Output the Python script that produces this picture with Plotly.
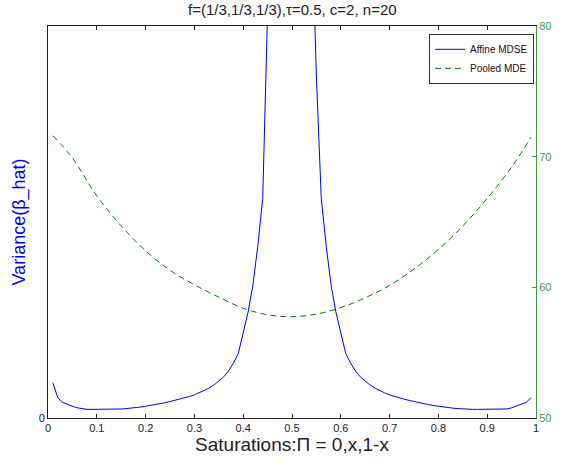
import numpy as np
import plotly.graph_objects as go

# Saturation grid (x) and series values
x_sat = np.round(np.arange(1, 100) * 0.01, 2).tolist()

affine_mdse = [
    0.090, 0.052, 0.040, 0.034, 0.030, 0.026, 0.023, 0.022, 0.022, 0.022,
    0.022, 0.022, 0.022, 0.022, 0.023, 0.024, 0.025, 0.027, 0.028, 0.030,
    0.032, 0.034, 0.036, 0.039, 0.042, 0.045, 0.048, 0.051, 0.055, 0.059,
    0.064, 0.069, 0.076, 0.084, 0.094, 0.105, 0.120, 0.140, 0.165, 0.215,
    0.270, 0.340, 0.440, 0.560, 0.870, 1.30, 2.0, 3.5, 7.0, 12.0,
    7.0, 3.5, 2.0, 1.30, 0.870, 0.560, 0.440, 0.340, 0.270, 0.215,
    0.165, 0.140, 0.120, 0.105, 0.094, 0.084, 0.076, 0.069, 0.064, 0.059,
    0.055, 0.051, 0.048, 0.045, 0.042, 0.039, 0.036, 0.034, 0.032, 0.030,
    0.028, 0.027, 0.025, 0.024, 0.023, 0.022, 0.022, 0.022, 0.022, 0.022,
    0.022, 0.022, 0.022, 0.023, 0.026, 0.030, 0.034, 0.040, 0.052, 0.090,
]
affine_mdse = affine_mdse[:99]

x_pooled = [0.01, 0.05, 0.10, 0.15, 0.20, 0.25, 0.30, 0.35, 0.40, 0.45, 0.50,
            0.55, 0.60, 0.65, 0.70, 0.75, 0.80, 0.85, 0.90, 0.95, 0.99]
pooled_mde = [71.6, 69.9, 67.0, 64.7, 62.8, 61.3, 60.2, 59.25, 58.4, 57.9, 57.75,
              57.95, 58.45, 59.2, 60.15, 61.4, 62.9, 64.7, 66.8, 69.2, 71.5]

x_ticks = [0, 0.1, 0.2, 0.3, 0.4, 0.5, 0.6, 0.7, 0.8, 0.9, 1]
x_ticktext = ["0", "0.1", "0.2", "0.3", "0.4", "0.5", "0.6", "0.7", "0.8", "0.9", "1"]
right_ticks = [50, 60, 70, 80]

BLUE = "#0000FF"
GREEN = "#008000"
AXGREEN = "#3c9c3c"
FONT = "Liberation Sans, Arial, sans-serif"

fig = go.Figure()
fig.add_trace(go.Scatter(
    x=x_sat, y=affine_mdse, mode="lines", name="Affine MDSE",
    line=dict(color=BLUE, width=1), yaxis="y",
))
fig.add_trace(go.Scatter(
    x=x_pooled, y=pooled_mde, mode="lines", name="Pooled MDE",
    line=dict(color=GREEN, width=1, dash="6px,4px", shape="spline"), yaxis="y2",
))

fig.update_layout(
    width=563, height=463,
    margin=dict(l=48, r=15, t=26, b=45),
    paper_bgcolor="white", plot_bgcolor="white",
    font=dict(family=FONT, size=11, color="#222222"),
    showlegend=True,
    legend=dict(
        x=0.996, y=0.98, xanchor="right", yanchor="top",
        bgcolor="white", bordercolor="#333333", borderwidth=1,
        font=dict(family=FONT, size=10, color="#111111"),
        itemwidth=30, tracegroupgap=0,
    ),
    xaxis=dict(
        range=[0, 1], tickvals=x_ticks, ticktext=x_ticktext,
        ticks="inside", ticklen=4, tickcolor="#222222",
        showline=True, linecolor="#222222", linewidth=1, mirror="ticks",
        showgrid=False, zeroline=False,
        tickfont=dict(size=11, color="#222222"),
        title=dict(text="Saturations:Π = 0,x,1-x",
                   font=dict(size=19, color="#222222"), standoff=3),
    ),
    yaxis=dict(
        range=[0, 1], tickvals=[0], ticktext=["0"],
        ticks="", showline=True, linecolor=BLUE, linewidth=1,
        showgrid=False, zeroline=False,
        tickfont=dict(size=11, color=BLUE),
        title=dict(text="Variance(β_hat)", font=dict(size=18, color=BLUE), standoff=8),
    ),
    yaxis2=dict(
        range=[50, 80], tickvals=right_ticks, overlaying="y", side="right",
        ticks="inside", ticklen=4, tickcolor=AXGREEN,
        showline=True, linecolor=AXGREEN, linewidth=1,
        showgrid=False, zeroline=False,
        tickfont=dict(size=11, color=AXGREEN),
    ),
    annotations=[dict(
        text="f=(1/3,1/3,1/3),τ=0.5, c=2, n=20",
        xref="paper", yref="paper", x=0.5, y=1.0, yshift=6,
        xanchor="center", yanchor="bottom", showarrow=False,
        font=dict(size=15, color="#222222"),
    )],
)

fig.write_html("out.html", config={"displayModeBar": False},
               post_script="document.body.style.margin='0';")
